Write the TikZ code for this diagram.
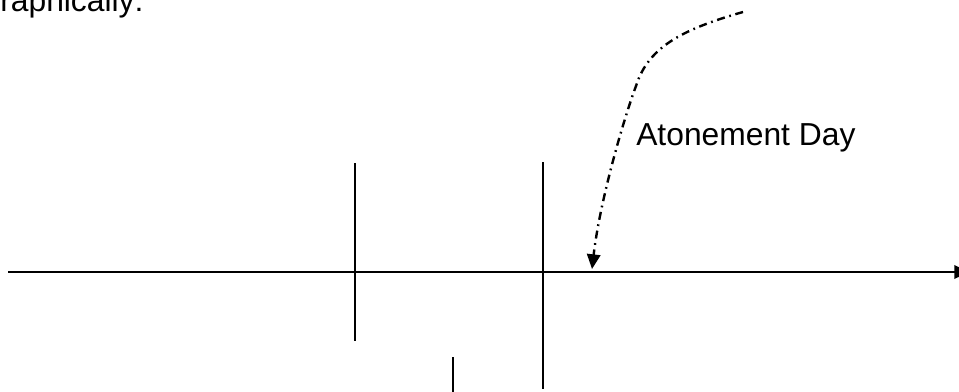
\documentclass[tikz,border=0pt]{standalone}
\usepackage{fontspec}
\setmainfont{Liberation Sans}
\usetikzlibrary{arrows.meta}
\begin{document}
\begin{tikzpicture}[x=0.75pt,y=-0.75pt,
  axisline/.style={line width=1.8pt,-{Triangle[length=11pt,width=10pt]}},
  tick/.style={line width=1.8pt},
  dashdot/.style={line width=1.8pt,dash pattern=on 6pt off 3.5pt on 1.3pt off 3.5pt,-{Triangle[length=11pt,width=10pt]}},
  lbltext/.style={font=\fontsize{23.85pt}{28pt}\selectfont,inner sep=0pt}]
\useasboundingbox (0,0) rectangle (959,392);
\clip (0,0) rectangle (959,392);
% top cut-off text
\node[lbltext,anchor=base west] (top) at (-24.7,12) {Graphically:};
% axis
\coordinate (axL) at (8,272);
\coordinate (axR) at (969,272);
\draw[axisline] (axL) -- (axR);
% vertical ticks
\coordinate (v1t) at (355,163); \coordinate (v1b) at (355,341);
\coordinate (v2t) at (543,162); \coordinate (v2b) at (543,389);
\coordinate (v3t) at (453,357); \coordinate (v3b) at (453,400);
\draw[tick] (v1t) -- (v1b);
\draw[tick] (v2t) -- (v2b);
\draw[tick] (v3t) -- (v3b);
% label
\node[lbltext,anchor=base west] (atone) at (636,146) {Atonement Day};
% curved dash-dot arrow
\coordinate (cs) at (743,12);
\coordinate (cm) at (636,86);
\coordinate (ce) at (592,269);
\draw[dashdot] (cs) .. controls (680,30) and (648,48) .. (cm)
  .. controls (624,118) and (600,200) .. (ce);
\end{tikzpicture}
\end{document}
